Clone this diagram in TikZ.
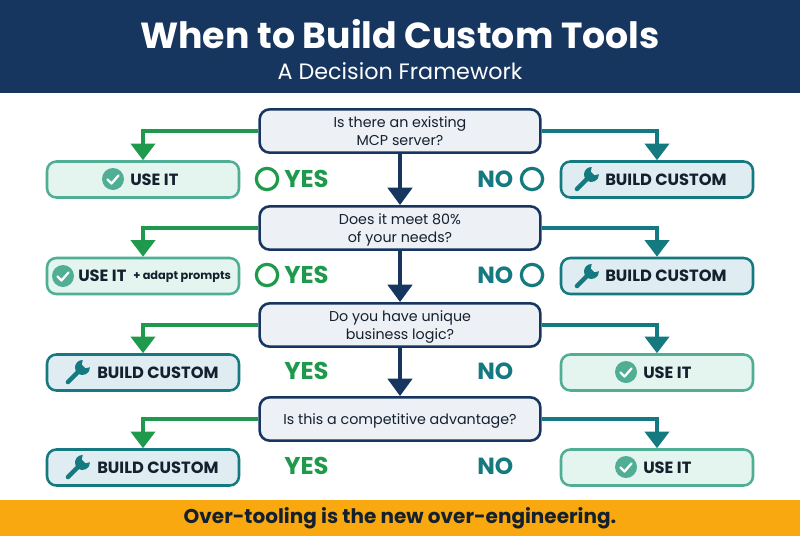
\documentclass[tikz,border=0pt]{standalone}
\usepackage{fontspec}
\setmainfont{Poppins}
\usetikzlibrary{arrows.meta}
\definecolor{navy}{HTML}{17365F}
\definecolor{grn}{HTML}{1F9A4C}
\definecolor{tealc}{HTML}{147A80}
\definecolor{mint}{HTML}{4FAE94}
\definecolor{mintfill}{HTML}{E3F5EE}
\definecolor{bluefill}{HTML}{DFECF1}
\definecolor{qfill}{HTML}{EDF0F5}
\definecolor{amber}{HTML}{F9A90F}
\definecolor{inkc}{HTML}{14202E}
\tikzset{
  x=0.75pt,y=-0.75pt,
  question/.style={draw=navy,line width=1.9pt,fill=qfill,rounded corners=7.5pt,minimum width=210.5pt,minimum height=32.5pt,inner sep=0pt,align=center,font=\fontsize{10.7pt}{13.4pt}\selectfont\color{inkc},text depth=0pt},
  usebox/.style={draw=mint,line width=1.9pt,fill=mintfill,rounded corners=7pt,minimum width=144pt,minimum height=27pt,inner sep=0pt},
  buildbox/.style={draw=tealc,line width=1.9pt,fill=bluefill,rounded corners=7pt,minimum width=144pt,minimum height=27pt,inner sep=0pt},
  restext/.style={font=\fontsize{12.2pt}{14pt}\selectfont\bfseries\color{inkc},inner sep=0pt},
  yeslab/.style={font=\fontsize{18.2pt}{20pt}\selectfont\bfseries\color{grn},inner sep=0pt},
  nolab/.style={font=\fontsize{17.5pt}{20pt}\selectfont\bfseries\color{tealc},inner sep=0pt},
  yesring/.style={circle,draw=grn,line width=2.4pt,minimum size=16pt,inner sep=0pt},
  noring/.style={circle,draw=tealc,line width=2.4pt,minimum size=16pt,inner sep=0pt},
  checkicon/.style={circle,fill=mint,minimum size=16.5pt,inner sep=0pt},
  wrenchicon/.style={minimum size=16pt,inner sep=0pt},
  yesarrow/.style={draw=grn,line width=3.6pt,-{Triangle[length=12.5pt,width=18pt]}},
  noarrow/.style={draw=tealc,line width=3.6pt,-{Triangle[length=12.5pt,width=18pt]}},
  downarrow/.style={draw=navy,line width=3.6pt,-{Triangle[length=13pt,width=18pt]}},
  pics/chk/.style={code={\draw[white,line width=1.7pt,line cap=round,line join=round] (-5.5,0.5) -- (-1.5,4.5) -- (5.5,-3.5);}},
  pics/wrench/.style={code={
    \draw[tealc,line width=3.4pt,line cap=round,y=0.75pt] (-10,-10) -- (3,3);
    \fill[tealc,y=0.75pt,shift={(4.5,4.5)}] (88:7.5) arc[start angle=88,end angle=362,radius=7.5] -- (-15:3) -- (105:3) -- cycle;
  }},
}
\begin{document}
\begin{tikzpicture}
\useasboundingbox (0,0) rectangle (800,536);
\fill[white] (0,0) rectangle (800,536);
\fill[navy] (0,0) rectangle (800,93);
\fill[amber] (0,500) rectangle (800,536);
\node[font=\fontsize{27.2pt}{30pt}\selectfont\bfseries,text=white,inner sep=0pt] (title) at (400,34) {When to Build Custom Tools};
\node[font=\fontsize{16.7pt}{19pt}\selectfont,text=white,inner sep=0pt] (subtitle) at (400,71) {A Decision Framework};
\node[font=\fontsize{15pt}{17pt}\selectfont\bfseries,text=inkc,inner sep=0pt] (footer) at (400,518) {Over-tooling is the new over-engineering.};

\node[question] (q1) at (400,131) {Is there an existing\\MCP server?};
\node[question] (q2) at (400,228) {Does it meet 80\%\\of your needs?};
\node[question] (q3) at (400,325) {Do you have unique\\business logic?};
\node[question] (q4) at (400,419) {Is this a competitive advantage?};

\node[usebox] (l1) at (143,179.5) {};
\node[usebox] (l2) at (143,276) {};
\node[buildbox] (l3) at (143,372.5) {};
\node[buildbox] (l4) at (143,467.5) {};
\node[buildbox] (r1) at (657,179.5) {};
\node[buildbox] (r2) at (657,276) {};
\node[usebox] (r3) at (657,372.5) {};
\node[usebox] (r4) at (657,467.5) {};

\draw[downarrow] (q1) -- (q2);
\draw[downarrow] (q2) -- (q3);
\draw[downarrow] (q3) -- (q4);
\foreach \q/\a/\b in {q1/l1/r1,q2/l2/r2,q3/l3/r3,q4/l4/r4}{
  \draw[yesarrow] (\q.west) -| (\a.north);
  \draw[noarrow] (\q.east) -| (\b.north);
}

% left results
\node[checkicon] (c1) at (113,179) {}; \pic at (c1) {chk};
\node[restext,anchor=west] (t1) at (130,179.5) {USE IT};
\node[checkicon] (c2) at (63,276) {}; \pic at (c2) {chk};
\node[restext,anchor=west] (t2) at (78,276) {USE IT};
\node[inner sep=0pt,anchor=west,font=\fontsize{8.5pt}{10pt}\selectfont\bfseries,text=inkc] (t2b) at (133,277) {+ adapt prompts};
\node[wrenchicon] (w3) at (78,372) {}; \pic at (w3) {wrench};
\node[restext,anchor=west] (t3) at (97,372.5) {BUILD CUSTOM};
\node[wrenchicon] (w4) at (78,467) {}; \pic at (w4) {wrench};
\node[restext,anchor=west] (t4) at (97,467.5) {BUILD CUSTOM};
% right results
\node[wrenchicon] (w5) at (587,179) {}; \pic at (w5) {wrench};
\node[restext,anchor=west] (t5) at (605,180) {BUILD CUSTOM};
\node[wrenchicon] (w6) at (587,276) {}; \pic at (w6) {wrench};
\node[restext,anchor=west] (t6) at (605,276) {BUILD CUSTOM};
\node[checkicon] (c7) at (626,372) {}; \pic at (c7) {chk};
\node[restext,anchor=west] (t7) at (643,372.5) {USE IT};
\node[checkicon] (c8) at (626,467) {}; \pic at (c8) {chk};
\node[restext,anchor=west] (t8) at (643,467.5) {USE IT};

% yes / no labels
\node[yesring] (yr1) at (267,179) {};
\node[yesring] (yr2) at (267,275) {};
\node[yeslab,anchor=west] (y1) at (284,179) {YES};
\node[yeslab,anchor=west] (y2) at (284,275) {YES};
\node[yeslab,anchor=west] (y3) at (284,371) {YES};
\node[yeslab,anchor=west] (y4) at (284,466) {YES};
\node[noring] (nr1) at (532,179) {};
\node[noring] (nr2) at (532,275) {};
\node[nolab,anchor=west] (n1) at (477,179) {NO};
\node[nolab,anchor=west] (n2) at (477,275) {NO};
\node[nolab,anchor=west] (n3) at (477,371) {NO};
\node[nolab,anchor=west] (n4) at (477,466) {NO};
\end{tikzpicture}
\end{document}
